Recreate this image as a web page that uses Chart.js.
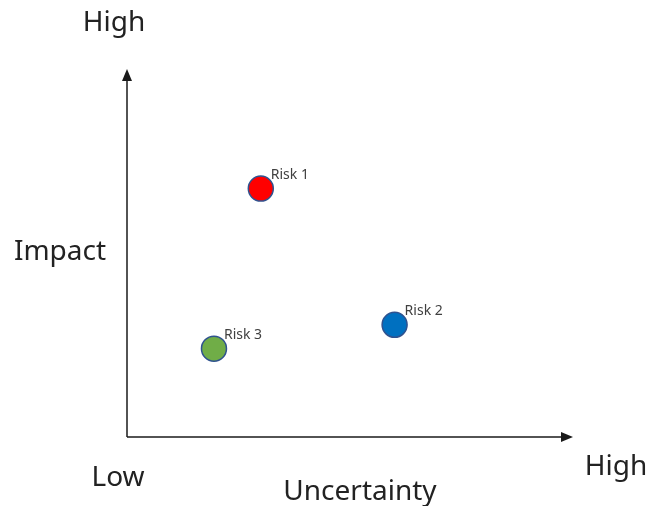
<!DOCTYPE html>
<html>
<head>
<meta charset="utf-8">
<script src="https://cdn.jsdelivr.net/npm/chart.js@4/dist/chart.umd.min.js"></script>
<style>
  html, body { margin: 0; padding: 0; background: #fff; }
  #wrap { width: 650px; height: 506px; }
</style>
</head>
<body>
<div id="wrap"><canvas id="chart"></canvas></div>
<script>
// risk data (0-10 scale on both axes)
var risks = ['Risk 1', 'Risk 2', 'Risk 3'];
var uncertainty = [3.0, 6.0, 1.95];
var impact = [6.75, 3.05, 2.4];
var fills = ['#FF0000', '#0070C0', '#70AD47'];

var points = risks.map(function (r, i) {
    return { x: uncertainty[i], y: impact[i] };
});

// arrows, axis words and point labels
var decor = {
    id: 'decor',
    afterDraw: function (chart) {
        var c = chart.ctx;
        var a = chart.chartArea;
        c.save();
        c.strokeStyle = '#1a1a1a';
        c.fillStyle = '#1a1a1a';
        c.lineWidth = 1.5;
        // y axis
        c.beginPath();
        c.moveTo(a.left, a.bottom);
        c.lineTo(a.left, a.top + 10);
        c.stroke();
        c.beginPath();
        c.moveTo(a.left, a.top);
        c.lineTo(a.left - 5, a.top + 12);
        c.lineTo(a.left + 5, a.top + 12);
        c.closePath();
        c.fill();
        // x axis
        c.beginPath();
        c.moveTo(a.left, a.bottom);
        c.lineTo(a.right - 10, a.bottom);
        c.stroke();
        c.beginPath();
        c.moveTo(a.right, a.bottom);
        c.lineTo(a.right - 12, a.bottom - 5);
        c.lineTo(a.right - 12, a.bottom + 5);
        c.closePath();
        c.fill();

        // big words
        c.fillStyle = '#222';
        c.font = '28px "Noto Sans", sans-serif';
        c.textAlign = 'center';
        c.textBaseline = 'middle';
        c.fillText('High', 114, 23);
        c.fillText('Impact', 60, 252);
        c.fillText('Low', 118, 478);
        c.fillText('Uncertainty', 360, 492);
        c.fillText('High', 616, 467);

        // point labels
        c.fillStyle = '#404040';
        c.font = '14px "Noto Sans", sans-serif';
        c.textAlign = 'left';
        var meta = chart.getDatasetMeta(0);
        meta.data.forEach(function (el, i) {
            c.fillText(risks[i], el.x + 10, el.y - 14);
        });
        c.restore();
    }
};

var ctx = document.getElementById('chart');
var chart = new Chart(ctx, {
    type: 'scatter',
    data: {
        datasets: [{
            label: 'Risks',
            data: points,
            backgroundColor: fills,
            borderColor: '#2F528F',
            borderWidth: 1.5,
            pointRadius: 12.5,
            pointHoverRadius: 12.5
        }]
    },
    options: {
        responsive: true,
        maintainAspectRatio: false,
        animation: false,
        layout: { padding: { left: 127, top: 69, right: 77, bottom: 69 } },
        scales: {
            x: { display: false, min: 0, max: 10 },
            y: { display: false, min: 0, max: 10 }
        },
        plugins: {
            legend: { display: false },
            tooltip: { enabled: false }
        }
    },
    plugins: [decor]
});
</script>
</body>
</html>
